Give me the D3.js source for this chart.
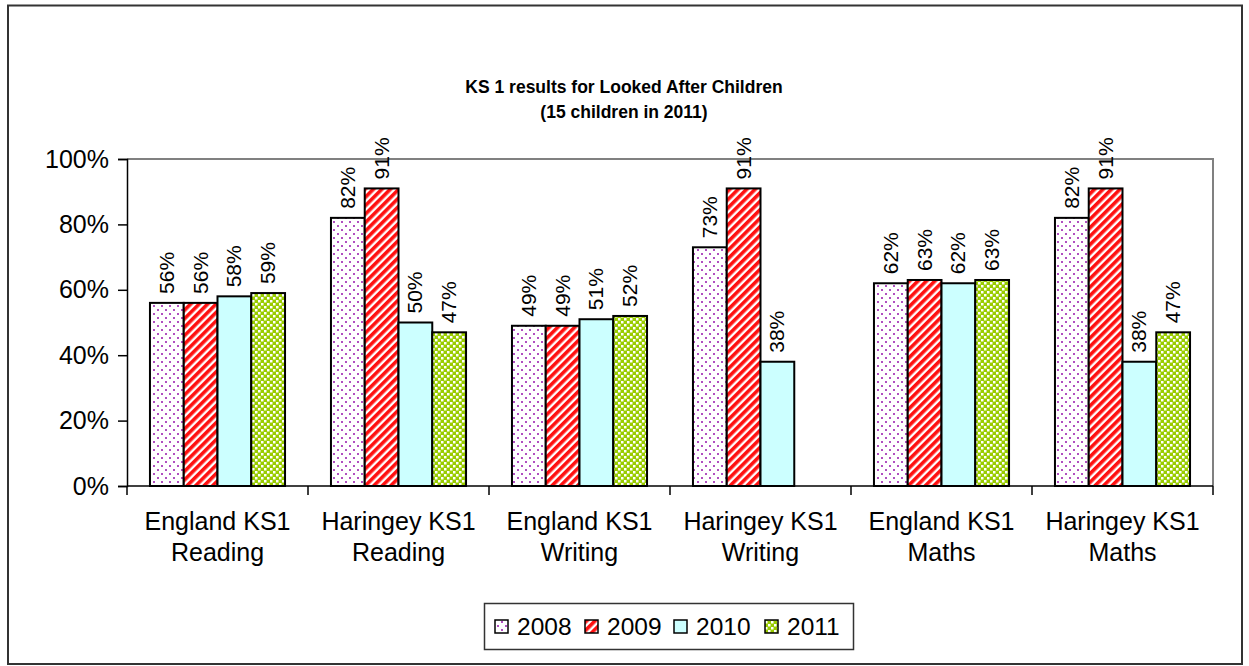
<!DOCTYPE html>
<html><head><meta charset="utf-8">
<script src="https://cdn.jsdelivr.net/npm/d3@7"></script>
<style>body{margin:0;background:#fff}svg{display:block;font-family:"Liberation Sans",Arial,sans-serif}</style>
</head><body><svg id="c" width="1249" height="666"></svg>
<script>
const categories = [["England KS1","Reading"],["Haringey KS1","Reading"],["England KS1","Writing"],["Haringey KS1","Writing"],["England KS1","Maths"],["Haringey KS1","Maths"]];
const years = ["2008","2009","2010","2011"];
const v2008 = [56,82,49,73,62,82];
const v2009 = [56,91,49,91,63,91];
const v2010 = [58,50,51,38,62,38];
const v2011 = [59,47,52,null,63,47];
const yTicks = [0,20,40,60,80,100];
const series = [v2008,v2009,v2010,v2011];

const svg = d3.select("#c");
const defs = svg.append("defs");
let p = defs.append("pattern").attr("id","p0").attr("patternUnits","userSpaceOnUse").attr("width",8).attr("height",8);
p.append("rect").attr("width",8).attr("height",8).attr("fill","#fff");
p.append("rect").attr("x",1).attr("y",1).attr("width",2).attr("height",2).attr("fill","#b04fc0");
p.append("rect").attr("x",5).attr("y",5).attr("width",2).attr("height",2).attr("fill","#b04fc0");
p = defs.append("pattern").attr("id","p1").attr("patternUnits","userSpaceOnUse").attr("width",6).attr("height",6).attr("patternTransform","rotate(45)");
p.append("rect").attr("width",6).attr("height",6).attr("fill","#fff");
p.append("rect").attr("width",3.6).attr("height",6).attr("fill","#ff1010");
p = defs.append("pattern").attr("id","p3").attr("patternUnits","userSpaceOnUse").attr("width",6).attr("height",6);
p.append("rect").attr("width",6).attr("height",6).attr("fill","#99cc00");
p.append("rect").attr("x",0).attr("y",0).attr("width",2.5).attr("height",2.5).attr("fill","#fff");
p.append("rect").attr("x",3).attr("y",3).attr("width",2.5).attr("height",2.5).attr("fill","#fff");
const fills = ["url(#p0)","url(#p1)","#ccffff","url(#p3)"];

svg.append("rect").attr("x",8).attr("y",5.5).attr("width",1234).attr("height",658.5).attr("fill","none").attr("stroke","#333").attr("stroke-width",2);

const L=127,R=1213,T=159,B=486;
const x = d3.scaleBand().domain(d3.range(categories.length)).range([L,R]);
const xi = d3.scaleBand().domain(d3.range(years.length)).range([0,x.bandwidth()]).paddingOuter(0.68);
const y = d3.scaleLinear().domain([0,100]).range([B,T]);

svg.append("path").attr("d",`M${L},${T}H${R}V${B}`).attr("fill","none").attr("stroke","#808080").attr("stroke-width",2);

svg.append("text").attr("x",624).attr("y",93).attr("text-anchor","middle").attr("font-weight","bold").attr("font-size",17.5).text("KS 1 results for Looked After Children");
svg.append("text").attr("x",624).attr("y",118).attr("text-anchor","middle").attr("font-weight","bold").attr("font-size",17.5).text("(15 children in 2011)");

series.forEach((s,si)=>{
  const g = svg.append("g");
  s.forEach((v,ci)=>{
    if(v==null) return;
    const bx = x(ci)+xi(si), bw = xi.bandwidth();
    g.append("rect").attr("x",bx).attr("y",y(v)).attr("width",bw).attr("height",B-y(v)).attr("fill",fills[si]).attr("stroke","#000").attr("stroke-width",2);
    g.append("text").attr("transform",`translate(${bx+bw/2+7},${y(v)-9}) rotate(-90)`).attr("font-size",21).text(v+"%");
  });
});

const ya = svg.append("g").attr("transform",`translate(${L},0)`).call(d3.axisLeft(y).tickValues(yTicks).tickFormat(d=>d+"%").tickSize(9));
ya.select(".domain").attr("stroke","#000").attr("stroke-width",1.5);
ya.selectAll(".tick line").attr("stroke","#000").attr("stroke-width",1.5);
ya.selectAll(".tick text").attr("font-size",25).attr("font-family","Liberation Sans, Arial, sans-serif").attr("fill","#000").attr("x",-18);

const xa = svg.append("g").attr("transform",`translate(0,${B})`);
xa.append("line").attr("x1",L).attr("x2",R).attr("stroke","#000").attr("stroke-width",1.5);
d3.range(categories.length+1).forEach(i=>{
  const xx = L + i*x.step();
  xa.append("line").attr("x1",xx).attr("x2",xx).attr("y1",0).attr("y2",9).attr("stroke","#000").attr("stroke-width",1.5);
});
categories.forEach((c,i)=>{
  const cx = x(i)+x.bandwidth()/2;
  const t = xa.append("text").attr("text-anchor","middle").attr("font-size",25).attr("x",cx);
  t.append("tspan").attr("x",cx).attr("y",44).text(c[0]);
  t.append("tspan").attr("x",cx).attr("y",75).text(c[1]);
});

svg.append("rect").attr("x",484.5).attr("y",603.5).attr("width",369).attr("height",46).attr("fill","#fff").attr("stroke","#333").attr("stroke-width",1.5);
const lx = [495,585,674,765];
years.forEach((yr,i)=>{
  svg.append("rect").attr("x",lx[i]).attr("y",620).attr("width",13).attr("height",13).attr("fill",fills[i]).attr("stroke","#000").attr("stroke-width",1.5);
  svg.append("text").attr("x",lx[i]+22).attr("y",635).attr("font-size",24.5).text(yr);
});
</script></body></html>
